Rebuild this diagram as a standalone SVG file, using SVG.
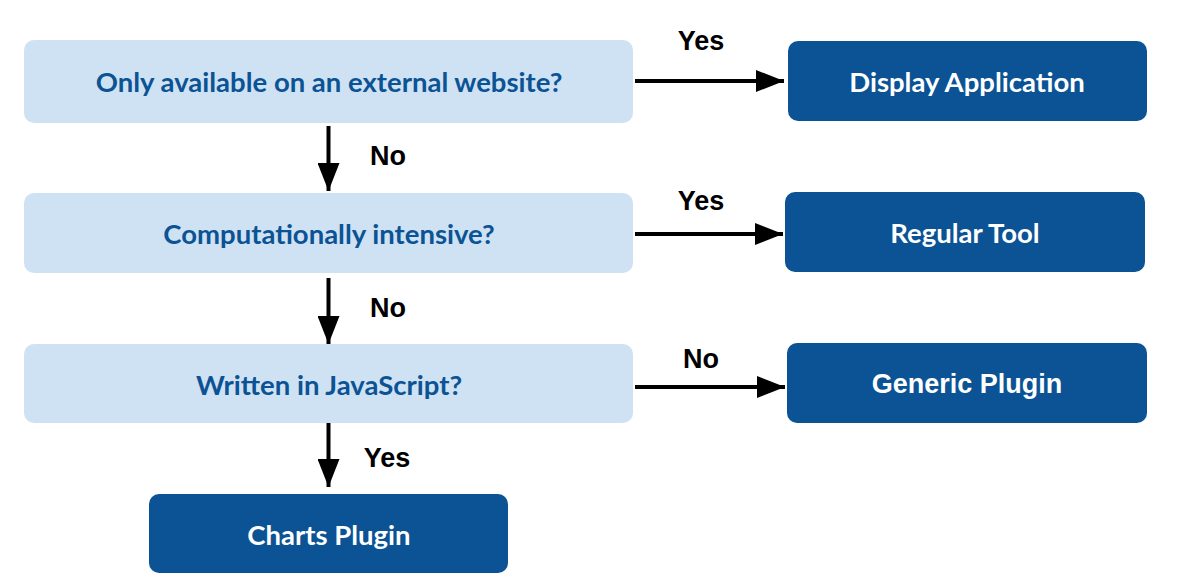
<svg xmlns="http://www.w3.org/2000/svg" width="1185" height="584" viewBox="0 0 1185 584">
<style>
.q{fill:#cfe2f3}
.a{fill:#0b5394}
.qt{font-family:Lato,"Source Sans Pro","Noto Sans",sans-serif;font-weight:bold;font-size:27.5px;fill:#0b5394;text-anchor:middle}
.at{font-family:Lato,"Noto Sans",sans-serif;font-weight:bold;font-size:27.5px;fill:#ffffff;text-anchor:middle}
.ag{font-family:"Liberation Sans",Arial,sans-serif;font-weight:bold;font-size:27px;fill:#ffffff;text-anchor:middle}
.lb{font-family:"Liberation Sans",Arial,sans-serif;font-weight:bold;font-size:27px;fill:#000000;text-anchor:middle}
.c{stroke:#000;stroke-width:4;fill:none}
</style>
<defs>
<marker id="ah" markerUnits="userSpaceOnUse" markerWidth="28" markerHeight="22" refX="28" refY="11" orient="auto">
<path d="M0,0 L28,11 L0,22 Z" fill="#000"/>
</marker>
</defs>
<rect width="1185" height="584" fill="#fff"/>
<g id="connectors">
<line class="c" x1="635" y1="81" x2="784" y2="81" marker-end="url(#ah)"/>
<line class="c" x1="635" y1="234" x2="783" y2="234" marker-end="url(#ah)"/>
<line class="c" x1="635" y1="387" x2="785" y2="387" marker-end="url(#ah)"/>
<line class="c" x1="328.5" y1="126" x2="328.5" y2="191" marker-end="url(#ah)"/>
<line class="c" x1="328.5" y1="278" x2="328.5" y2="344" marker-end="url(#ah)"/>
<line class="c" x1="328.5" y1="421" x2="328.5" y2="487" marker-end="url(#ah)"/>
<text class="lb" x="701" y="50">Yes</text>
<text class="lb" x="701" y="210">Yes</text>
<text class="lb" x="701" y="368">No</text>
<text class="lb" x="388" y="165">No</text>
<text class="lb" x="388" y="317">No</text>
<text class="lb" x="387" y="467">Yes</text>
</g>
<g id="q1"><rect class="q" x="24" y="40" width="609" height="83" rx="10"/><text class="qt" x="329" y="92">Only available on an external website?</text></g>
<g id="q2"><rect class="q" x="24" y="193" width="609" height="80" rx="10"/><text class="qt" x="329" y="244">Computationally intensive?</text></g>
<g id="q3"><rect class="q" x="24" y="344" width="609" height="79" rx="10"/><text class="qt" x="329" y="395">Written in JavaScript?</text></g>
<g id="display"><rect class="a" x="788" y="41" width="359" height="80" rx="10"/><text class="at" x="967" y="92">Display Application</text></g>
<g id="regular"><rect class="a" x="785" y="192" width="360" height="80" rx="10"/><text class="at" x="965" y="243">Regular Tool</text></g>
<g id="generic"><rect class="a" x="787" y="343" width="360" height="80" rx="10"/><text class="ag" x="967" y="393">Generic Plugin</text></g>
<g id="charts"><rect class="a" x="149" y="494" width="359" height="79" rx="10"/><text class="at" x="329" y="545">Charts Plugin</text></g>
</svg>
